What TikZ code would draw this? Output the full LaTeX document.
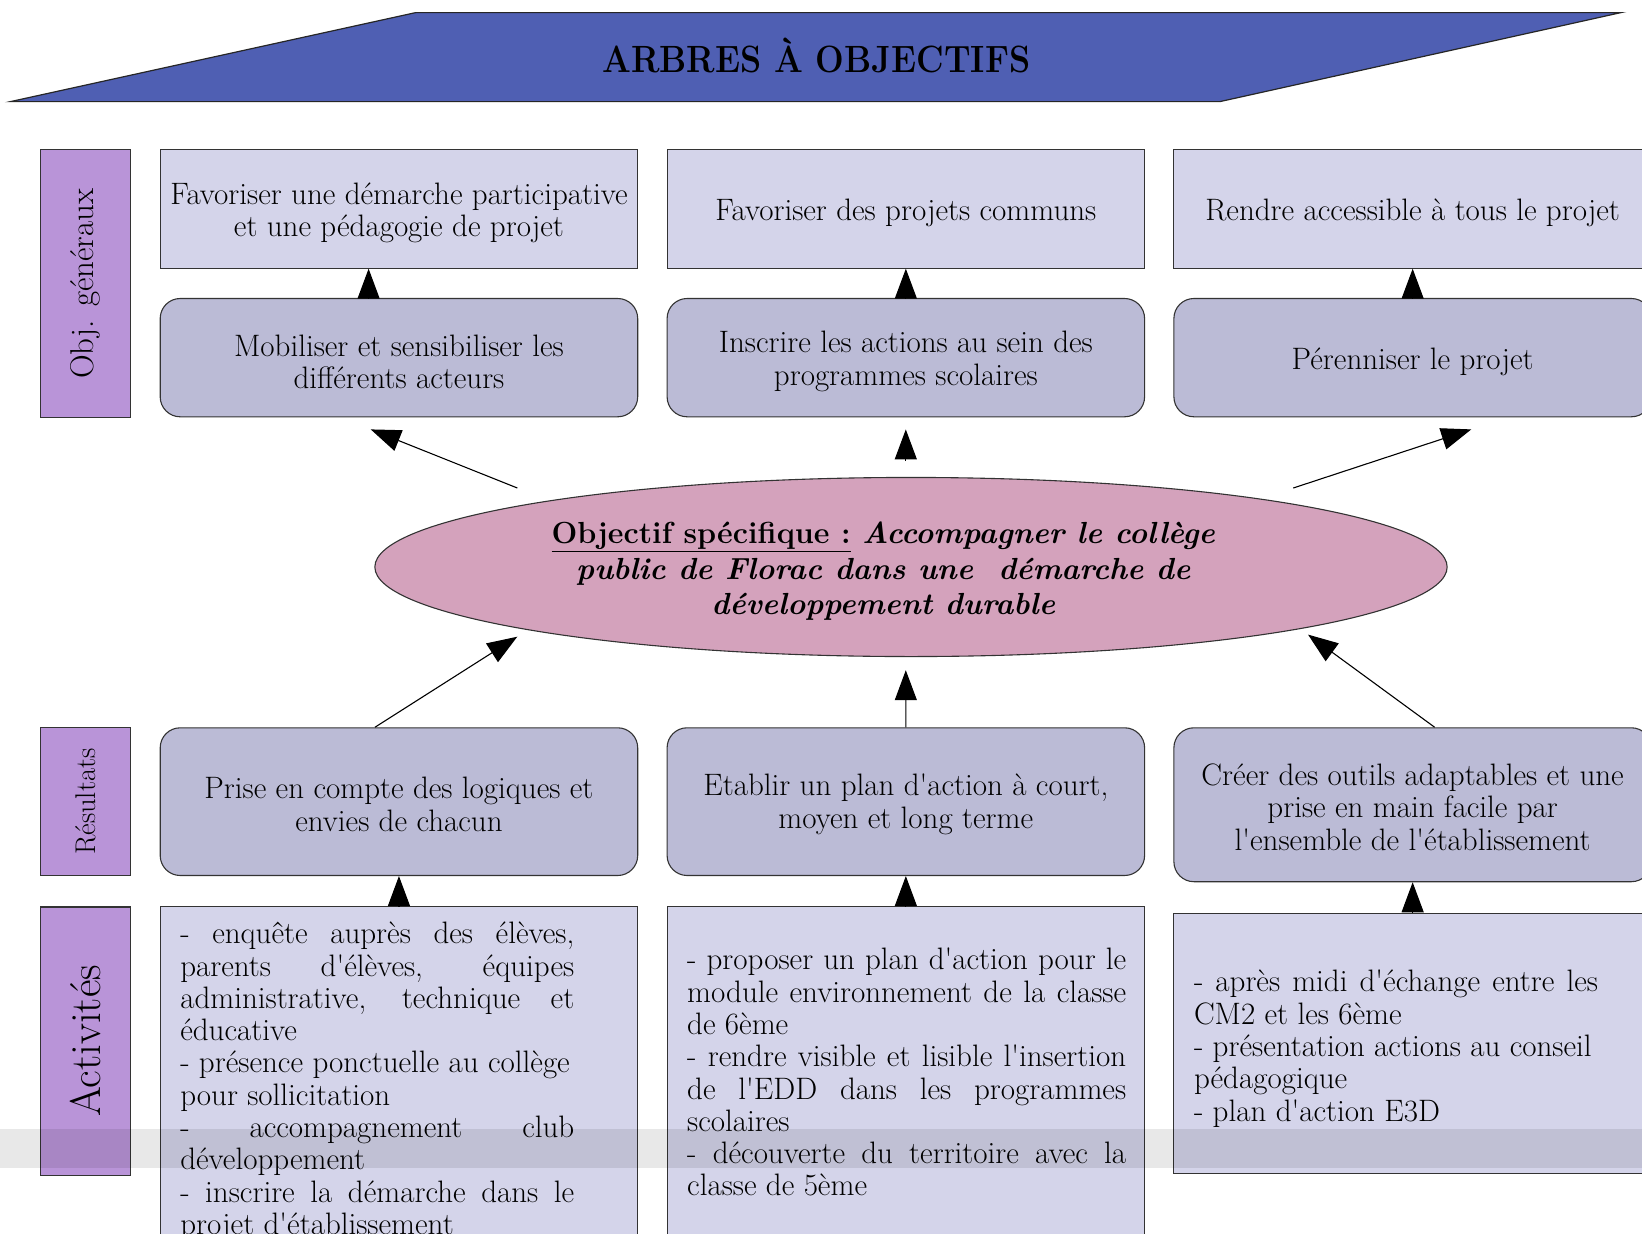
\documentclass[tikz,border=0pt]{standalone}
\usepackage{fontspec}
\usetikzlibrary{arrows.meta,shapes.geometric,calc}
\definecolor{titleblue}{HTML}{4F5FB3}
\definecolor{lightlav}{HTML}{D4D4EA}
\definecolor{midlav}{HTML}{BBBBD6}
\definecolor{pinkell}{HTML}{D4A2BC}
\definecolor{labpurple}{HTML}{B994D8}
\newcommand\jl[2]{\makebox[#1][s]{#2}}
\newcommand\ap{\textquotesingle}
\begin{document}
\begin{tikzpicture}[x=1pt,y=-1pt,
  box/.style={draw=black!80, line width=1.1pt, fill=lightlav, minimum width=477.5pt, inner sep=0pt},
  rbox/.style={box, fill=midlav, rounded corners=20pt},
  btxt/.style={inner sep=0pt, align=center, font=\fontsize{31}{32.5}\selectfont},
  lab/.style={draw=black!80, line width=1.1pt, fill=labpurple, minimum height=90.1pt, inner sep=0pt, rotate=90},
  arr/.style={line width=1.1pt, -{Triangle[length=30pt,width=22pt]}},
  acttext/.style={anchor=north west, inner sep=0pt, align=left, font=\fontsize{31}{32.3}\selectfont}
]
\useasboundingbox (0,0) rectangle (1642,1234);
% title
\draw[fill=titleblue, draw=black!85, line width=1.2pt] (415.7,12.6) -- (1621,12.6) -- (1220,101.6) -- (10.5,101.6) -- cycle;
\node[anchor=base, inner sep=0pt, font=\fontsize{38}{38}\selectfont\bfseries] (title) at (816.3,72.3) {\scalebox{0.894}[1]{ARBRES À OBJECTIFS}};
% labels
\node[lab, minimum width=268pt, font=\fontsize{32.9}{34}\selectfont] (lg) at (85.85,283.8) {Obj. généraux};
\node[lab, minimum width=147.7pt, font=\fontsize{28.5}{30}\selectfont] (lr) at (85.85,801.65) {Résultats};
\node[lab, minimum width=268.1pt, font=\fontsize{43}{44}\selectfont] (la) at (85.85,1041) {Activités};
% row 1
\node[box, minimum height=118.3pt] (g1) at (398.95,209) {};
\node[box, minimum height=118.3pt] (g2) at (905.85,209) {};
\node[box, minimum height=118.3pt] (g3) at (1412.65,209) {};
\node[btxt] (g1t) at ($(g1.center)+(0,4)$) {Favoriser une démarche participative\\et une pédagogie de projet};
\node[btxt] (g2t) at ($(g2.center)+(0,4)$) {Favoriser des projets communs};
\node[btxt] (g3t) at ($(g3.center)+(0,4)$) {Rendre accessible à tous le projet};
% row 2
\node[rbox, minimum height=118.3pt] (m1) at (398.95,357.65) {};
\node[rbox, minimum height=118.3pt] (m2) at (905.85,357.65) {};
\node[rbox, minimum height=118.3pt] (m3) at (1412.65,357.65) {};
\node[btxt] (m1t) at ($(m1.center)+(0,4)$) {Mobiliser et sensibiliser les\\différents acteurs};
\node[btxt] (m2t) at ($(m2.center)+(0,4)$) {Inscrire les actions au sein des\\programmes scolaires};
\node[btxt] (m3t) at ($(m3.center)+(0,4)$) {Pérenniser le projet};
% ellipse
\node[ellipse, draw=black!80, line width=1.1pt, fill=pinkell, minimum width=1072.3pt, minimum height=179.1pt, inner sep=0pt] (os) at (911,567) {};
\node[align=center, inner sep=0pt, font=\fontsize{30.5}{35.6}\selectfont\bfseries] (ost) at (883.3,571.4)
 {\underline{Objectif spécifique :} \textit{Accompagner le collège}\\
  \textit{public de Florac dans une\ \ démarche de}\\
  \textit{développement durable}};
% row 3
\node[rbox, minimum height=147.7pt] (r1) at (398.95,801.65) {};
\node[rbox, minimum height=147.7pt] (r2) at (905.85,801.65) {};
\node[rbox, minimum height=153.9pt] (r3) at (1412.65,804.75) {};
\node[btxt] (r1t) at ($(r1.center)+(0,2.5)$) {Prise en compte des logiques et\\envies de chacun};
\node[btxt] (r2t) at ($(r2.center)+(0,2.5)$) {Etablir un plan d\ap action à court,\\moyen et long terme};
\node[btxt] (r3t) at ($(r3.center)+(0,2.5)$) {Créer des outils adaptables et une\\prise en main facile par\\l\ap ensemble de l\ap établissement};
% row 4
\node[box, minimum height=340pt] (a1) at (398.95,1076.9) {};
\node[box, minimum height=340pt] (a2) at (905.85,1076.9) {};
\node[box, minimum height=260.7pt] (a3) at (1412.65,1043.55) {};
\node[acttext] (at1) at (180.1,922) {\jl{394pt}{- enquête auprès des élèves,}\\
\jl{394pt}{parents d\ap élèves, équipes}\\
\jl{394pt}{administrative, technique et}\\
éducative\\
- présence ponctuelle au collège\\
pour sollicitation\\
\jl{394pt}{- accompagnement club}\\
développement\\
\jl{394pt}{- inscrire la démarche dans le}\\
projet d\ap établissement};
\node[acttext] (at2) at (687,948) {\jl{439pt}{- proposer un plan d\ap action pour le}\\
\jl{439pt}{module environnement de la classe}\\
de 6ème\\
\jl{439pt}{- rendre visible et lisible l\ap insertion}\\
\jl{439pt}{de l\ap EDD dans les programmes}\\
scolaires\\
\jl{439pt}{- découverte du territoire avec la}\\
classe de 5ème};
\node[acttext] (at3) at (1193.8,970) {\jl{404pt}{- après midi d\ap échange entre les}\\
CM2 et les 6ème\\
- présentation actions au conseil\\
pédagogique\\
- plan d\ap action E3D};
% arrows row2 -> row1
\draw[arr] ($(m1.north)+(-30.35,0)$) -- ($(g1.south)+(-30.35,0)$);
\draw[arr] (m2.north) -- (g2.south);
\draw[arr] (m3.north) -- (g3.south);
% ellipse -> row2
\coordinate (eL) at (517.3,488);
\coordinate (tL) at (370.7,429.4);
\coordinate (eM) at (905.8,461);
\coordinate (tM) at (905.8,429.4);
\coordinate (eR) at (1293.3,488);
\coordinate (tR) at (1471.3,429.4);
\draw[arr] (eL) -- (tL);
\draw[arr] (eM) -- (tM);
\draw[arr] (eR) -- (tR);
% row3 -> ellipse
\coordinate (bL) at (517.3,636.7);
\coordinate (bM) at (905.8,670.2);
\coordinate (bR) at (1308,634.6);
\draw[arr] ($(r1.north)+(-24,0)$) -- (bL);
\draw[arr] (r2.north) -- (bM);
\draw[arr] ($(r3.north)+(22,0)$) -- (bR);
% row4 -> row3
\draw[arr] (a1.north) -- (r1.south);
\draw[arr] (a2.north) -- (r2.south);
\draw[arr] (a3.north) -- (r3.south);
% gray band
\fill[black, fill opacity=0.09] (0,1128.9) rectangle (1642,1167.6);
\end{tikzpicture}
\end{document}
